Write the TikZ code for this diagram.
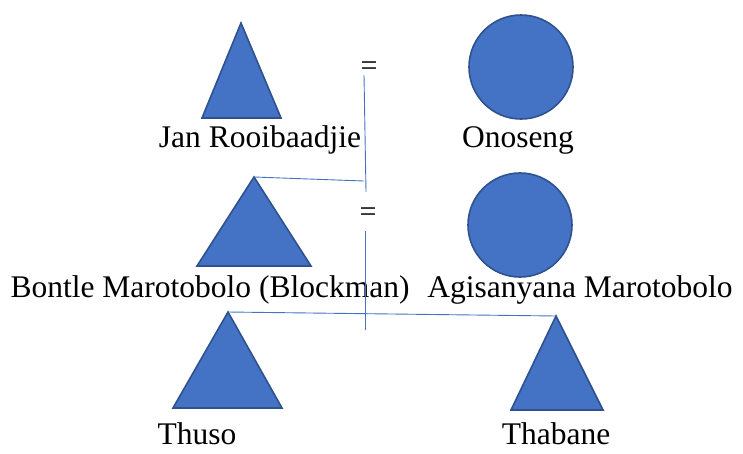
\documentclass[tikz,border=0pt]{standalone}
\usepackage{fontspec}
\setmainfont{Liberation Serif}
\definecolor{shapefill}{HTML}{4472C4}
\definecolor{shapeedge}{HTML}{2F528F}
\begin{document}
\begin{tikzpicture}[x=1pt,y=-1pt,
  male/.style={fill=shapefill,draw=shapeedge,line width=1.6pt,line join=miter},
  female/.style={circle,fill=shapefill,draw=shapeedge,line width=1.6pt,minimum size=104pt,inner sep=0pt},
  personlabel/.style={anchor=base,font=\fontsize{31.5}{38}\selectfont,inner sep=0pt},
  link/.style={draw=shapefill,line width=0.9pt},
  eqsign/.style={anchor=base,font=\fontsize{30}{34}\selectfont,inner sep=0pt}]
\useasboundingbox (0,0) rectangle (743,453);

% generation 1
\coordinate (janTop) at (241,23);
\draw[male] (janTop) -- (281,118) -- (202,118) -- cycle;
\node[female] (onoseng) at (521,67) {};
\node[personlabel] (janLbl) at (260,147) {Jan Rooibaadjie};
\node[personlabel] (onoLbl) at (518,147) {Onoseng};
\node[eqsign] (eq1) at (369,75) {=};
\coordinate (m1top) at (364,75);
\coordinate (m1bot) at (366,192);
\draw[link] (m1top) -- (m1bot);

% generation 2
\coordinate (bonTop) at (254,177);
\draw[male] (bonTop) -- (311,266) -- (197,266) -- cycle;
\node[female] (agis) at (520,225) {};
\node[personlabel] (bonLbl) at (210,297) {Bontle Marotobolo (Blockman)};
\node[personlabel] (agisLbl) at (580,297) {Agisanyana Marotobolo};
\node[eqsign] (eq2) at (368,221) {=};
\coordinate (m2top) at (365,231);
\coordinate (m2bot) at (365,330);
\coordinate (m1join) at (364,181);
\draw[link] (bonTop) -- (m1join);
\draw[link] (m2top) -- (m2bot);

% generation 3
\coordinate (thusoTop) at (228,312);
\draw[male] (thusoTop) -- (282,408) -- (173,408) -- cycle;
\coordinate (thabTop) at (556,316);
\draw[male] (thabTop) -- (603,410) -- (511,410) -- cycle;
\node[personlabel] (thusoLbl) at (197,444) {Thuso};
\node[personlabel] (thabLbl) at (556,444) {Thabane};
\draw[link] (thusoTop) -- (thabTop);
\end{tikzpicture}
\end{document}
